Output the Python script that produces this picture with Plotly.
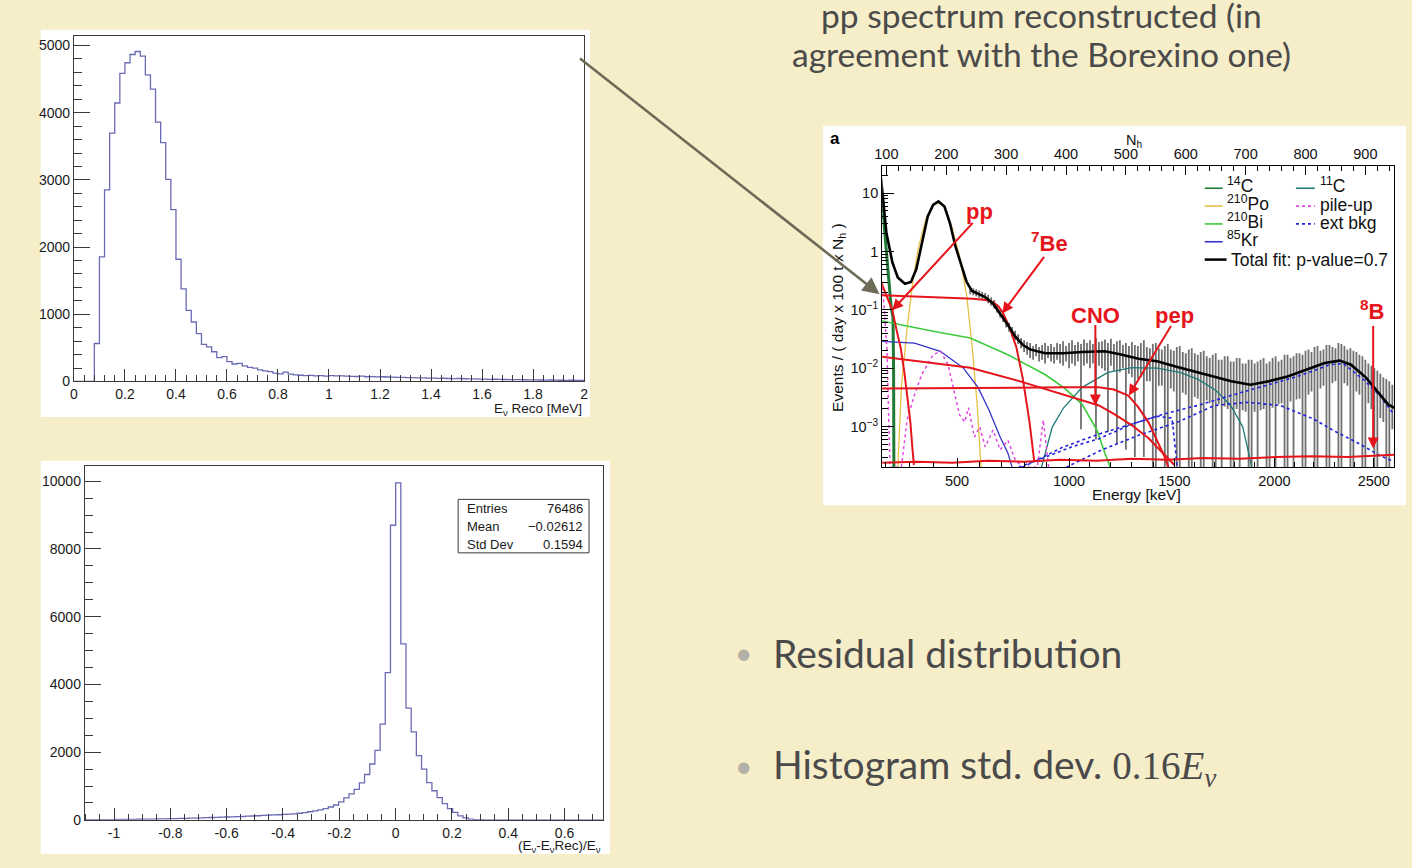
import numpy as np
import plotly.graph_objects as go

W, H = 1412, 868
BG = "#F6EDC9"
ROOT_FONT = "Liberation Sans"
SLIDE_FONT = "Lato"
TEXT_GREY = "#4a4a4a"


def px(x):
    return x / W


def py(y):
    return 1 - y / H


# ---------------- reconstructed energy histogram: 100 bins on [0, 2] MeV
reco_range = (0.0, 2.0)
reco_counts = [
    0, 0, 0, 0, 565, 1853, 2851, 3697, 4145, 4587,
    4744, 4867, 4911, 4843, 4562, 4351, 3859, 3555, 3009, 2557,
    1819, 1377, 1057, 885, 713, 551, 516, 442, 354, 369,
    295, 260, 270, 231, 211, 197, 172, 157, 147, 123,
    113, 138, 108, 98, 92, 88, 90, 84, 86, 80,
    86, 82, 84, 78, 76, 74, 78, 70, 72, 68,
    70, 66, 64, 60, 62, 56, 58, 52, 54, 50,
    50, 47, 48, 44, 42, 44, 40, 38, 37, 35,
    34, 32, 33, 30, 29, 27, 28, 26, 25, 24,
    24, 22, 21, 22, 19, 18, 17, 18, 16, 15,
]

# ---------------- relative residual histogram: 100 bins
res_range = (-1.104, 0.736)
res_counts = [
    6, 7, 8, 9, 10, 10, 12, 13, 14, 16,
    18, 20, 22, 24, 27, 30, 34, 38, 42, 45,
    50, 54, 58, 64, 70, 75, 80, 85, 90, 95,
    100, 108, 115, 122, 130, 138, 145, 152, 160, 168,
    180, 195, 215, 240, 265, 295, 330, 380, 440, 530,
    650, 770, 900, 1090, 1340, 1650, 2050, 2830, 4350, 8700,
    9950, 5200, 3300, 2600, 1900, 1500, 1100, 860, 660, 480,
    330, 220, 120, 60, 25, 8, 3, 0, 0, 0,
    0, 0, 0, 0, 0, 0, 0, 0, 0, 0,
    0, 0, 0, 0, 0, 0, 0, 0, 0, 0,
]
stat_names = ["Entries", "Mean", "Std Dev"]
stat_values = ["76486", "\u22120.02612", "0.1594"]

# ---------------- Borexino spectrum, abscissa in N_h
nh_range = (93, 948)
energy_ticks_nh = [218, 405, 581, 748, 914]
energy_ticks_kev = ["500", "1000", "1500", "2000", "2500"]
energy_minor_nh = [98, 139, 178, 255, 293, 330, 368, 440, 475, 510, 546,
                   614, 648, 681, 714, 781, 814, 848, 881]

fit_nh = [91, 100, 110, 119, 131, 141, 150, 159, 169, 178, 187, 197, 206, 215,
          225, 234, 243, 253, 265, 278, 290, 303, 315, 328, 340, 365, 396, 427,
          465, 490, 521, 552, 583, 614, 645, 676, 708, 739, 770, 801, 832, 857,
          876, 901, 919, 938, 948]
fit_y = [18, 2.1, 0.65, 0.36, 0.28, 0.30, 0.50, 1.4, 4.0, 6.3, 7.2, 5.9, 3.1, 1.26,
         0.58, 0.30, 0.21, 0.19, 0.166, 0.129, 0.087, 0.055, 0.035, 0.025, 0.021,
         0.018, 0.018, 0.019, 0.0195, 0.0174, 0.0145, 0.0132, 0.0107, 0.0089,
         0.0072, 0.0060, 0.0052, 0.0060, 0.0072, 0.0095, 0.0123, 0.0135, 0.0115,
         0.0069, 0.0041, 0.0024, 0.0021]

# measured spectrum: error-bar extent per N_h bin (every 5 N_h from 240 to 945)
data_nh = list(range(240, 950, 5))
data_hi = [
    .245, .235, .225, .215, .205, .195, .182, .165, .148, .125,
    .102, .085, .070, .060, .051, .044, .038, .033, .030, .028,
    .027, .024, .026, .023, .025, .027, .024, .026, .023, .027,
    .026, .029, .024, .027, .030, .025, .028, .026, .031, .027,
    .030, .026, .033, .028, .029, .031, .027, .032, .026, .029,
    .030, .025, .027, .024, .028, .025, .024, .027, .030, .023,
    .022, .026, .027, .022, .021, .024, .026, .021, .020, .023,
    .024, .019, .018, .021, .022, .018, .017, .019, .020, .016,
    .015, .017, .018, .014, .014, .016, .016, .013, .013, .015,
    .015, .012, .012, .014, .014, .012, .013, .014, .015, .012,
    .013, .015, .016, .013, .014, .017, .017, .015, .016, .018,
    .018, .017, .020, .021, .019, .023, .024, .020, .021, .025,
    .025, .023, .022, .027, .026, .024, .021, .022, .020, .019,
    .017, .016, .014, .012, .011, .010, .009, .008, .007, .0065,
    .006, .0052,
]
data_lo = [
    .185, .178, .170, .160, .152, .142, .130, .118, .105, .090,
    .074, .062, .050, .042, .035, .030, .026, .022, .019, .017,
    .015, .014, .016, .013, .014, .012, .015, .013, .012, .014,
    .012, .011, .013, .010, .012, .011, .013, .0009, .011, .012,
    .010, .012, .0006, .011, .010, .009, .0008, .011, .009, .0005,
    .0085, .010, .0004, .008, .007, .0003, .0065, .007, .0003, .006,
    .006, .0002, .0002, .005, .005, .0002, .0002, .0045, .004, .0002,
    .0002, .0038, .0035, .0002, .0002, .0032, .003, .0002, .0002, .0028,
    .0025, .0002, .0002, .0024, .0002, .0022, .002, .0002, .0002, .002,
    .0002, .0019, .0018, .0002, .0002, .0018, .0002, .0019, .002, .0002,
    .0002, .0021, .0002, .0024, .0025, .0002, .0002, .0027, .0002, .0029,
    .003, .0002, .0002, .0035, .004, .0002, .0002, .0045, .005, .0002,
    .0002, .0055, .006, .0002, .0002, .0055, .005, .0002, .0002, .004,
    .0035, .0002, .0002, .0025, .002, .0002, .0002, .0014, .0012, .0002,
    .0002, .0009,
]

pp_nh = [91, 100, 110, 117, 124, 130, 135, 140, 143, 146]
pp_y = [0.30, 0.17, 0.098, 0.045, 0.022, 0.0085, 0.0034, 0.0012, 0.00048, 0.00022]
be7_nh = [91, 130, 170, 210, 245, 265, 278, 287, 294, 305, 317, 328, 339, 347]
be7_y = [0.178, 0.172, 0.167, 0.161, 0.155, 0.148, 0.135, 0.115, 0.092, 0.052,
         0.023, 0.0065, 0.0012, 0.00025]
cno_nh = [91, 157, 240, 322, 378, 433, 455, 482, 510, 538, 565, 581]
cno_y = [0.0158, 0.0131, 0.0102, 0.0060, 0.0040, 0.0027, 0.0023, 0.0016, 0.00105,
         0.00063, 0.00033, 0.00022]
pep_nh = [91, 200, 300, 400, 455, 480, 504, 520, 538, 554, 565, 571]
pep_y = [0.0045, 0.0046, 0.0046, 0.0047, 0.0047, 0.0043, 0.0034, 0.0022, 0.00117,
         0.00054, 0.0003, 0.0002]
b8_nh = [93, 150, 210, 270, 330, 390, 450, 510, 570, 630, 690, 750, 810, 870, 948]
b8_y = [0.00024, 0.00025, 0.00024, 0.00026, 0.00025, 0.00027, 0.00026, 0.00028,
        0.00027, 0.00029, 0.00028, 0.0003, 0.00031, 0.0003, 0.00033]
c14_nh = [91, 95, 100, 104, 108, 111, 112, 112.5]
c14_y = [12, 4, 1.0, 0.3, 0.11, 0.075, 0.01, 0.0002]
po210_nh = [119, 125, 134.5, 144, 153, 165.6, 178, 187.4, 197, 209, 222, 234,
            243.5, 251.6, 258]
po210_y = [0.0002, 0.0047, 0.048, 0.29, 1.1, 3.5, 6.1, 6.9, 5.8, 2.7, 0.85, 0.18,
           0.022, 0.0024, 0.0002]
bi210_nh = [91, 178, 240, 303, 365, 397, 427, 452, 465, 474]
bi210_y = [0.065, 0.043, 0.033, 0.017, 0.0078, 0.0046, 0.0024, 0.00085, 0.00035,
           0.0002]
kr85_nh = [91, 147, 190, 228, 253, 271.5, 290, 303, 310]
kr85_y = [0.029, 0.027, 0.0195, 0.0102, 0.0047, 0.0019, 0.00066, 0.00035, 0.0002]
c11_nh = [359, 365, 377, 396, 427, 470, 510, 552, 590, 620, 650, 675, 695, 706, 710]
c11_y = [0.0002, 0.00035, 0.00098, 0.0021, 0.0047, 0.0085, 0.0102, 0.0100, 0.0085,
         0.0065, 0.0042, 0.0023, 0.0010, 0.00032, 0.0002]
pileup_nh = [91, 96, 101, 106, 125, 134.5, 147, 159, 178, 190.5, 203, 212, 222,
             231, 237, 247, 256, 265, 278, 290, 303, 315, 328, 352, 362, 371]
pileup_y = [0.39, 0.12, 0.02, 0.0002, 0.0002, 0.0013, 0.0035, 0.0078, 0.017,
            0.0195, 0.0115, 0.0047, 0.0016, 0.0012, 0.0021, 0.00066, 0.00098,
            0.00045, 0.00087, 0.0004, 0.00058, 0.00027, 0.0002, 0.0002, 0.0013,
            0.0002]
extA_nh = [321, 365, 410, 455, 510, 565, 620, 675, 731, 786, 841, 863, 896, 924, 946]
extA_y = [0.0002, 0.0003, 0.00045, 0.00062, 0.0011, 0.00166, 0.0023, 0.0034,
          0.0049, 0.0072, 0.0115, 0.012, 0.0065, 0.0034, 0.0017]
extB_nh = [400, 460, 520, 587, 648, 703, 758, 813, 852, 885, 924, 948]
extB_y = [0.0002, 0.0004, 0.0007, 0.0012, 0.0023, 0.0026, 0.0023, 0.00135,
          0.0008, 0.00054, 0.00032, 0.00025]
extC_nh = [327, 396, 458, 521, 552, 577, 583, 586]
extC_y = [0.0002, 0.00045, 0.00076, 0.0012, 0.0015, 0.0014, 0.0004, 0.0002]

RED = "#E5151B"
C14_COL = "#1E7A35"
PO_COL = "#E9C044"
BI_COL = "#3CCB3C"
KR_COL = "#3434C8"
C11_COL = "#1F7A78"
PU_COL = "#E048E0"
EXT_COL = "#2222DD"

fig = go.Figure()


def hist_outline(lo, hi, counts):
    edges = np.linspace(lo, hi, len(counts) + 1)
    return list(edges), list(counts) + [counts[-1]]


hx, hy = hist_outline(*reco_range, reco_counts)
fig.add_trace(go.Scatter(x=hx, y=hy, mode="lines", line=dict(color="#6B6BB5", width=1.3, shape="hv"),
                         xaxis="x", yaxis="y", hoverinfo="skip"))
rx, ry = hist_outline(*res_range, res_counts)
fig.add_trace(go.Scatter(x=rx, y=ry, mode="lines", line=dict(color="#6B6BB5", width=1.3, shape="hv"),
                         xaxis="x2", yaxis="y2", hoverinfo="skip"))

# measured spectrum drawn as vertical error bars
gx, gy = [], []
for n, lo, hi in zip(data_nh, data_lo, data_hi):
    gx += [n, n, None]
    gy += [lo, hi, None]
fig.add_trace(go.Scatter(x=gx, y=gy, mode="lines", line=dict(color="#707070", width=1.8),
                         connectgaps=False, xaxis="x3", yaxis="y3", hoverinfo="skip"))


def curve(xs, ys, color, width=1.5, dash="solid"):
    fig.add_trace(go.Scatter(x=xs, y=ys, mode="lines", line=dict(color=color, width=width, dash=dash),
                             xaxis="x3", yaxis="y3", hoverinfo="skip"))


curve(c14_nh, c14_y, C14_COL, 3)
curve(po210_nh, po210_y, PO_COL, 1.3)
curve(bi210_nh, bi210_y, BI_COL, 1.6)
curve(kr85_nh, kr85_y, KR_COL, 1.3)
curve(c11_nh, c11_y, C11_COL, 1.3)
curve(pileup_nh, pileup_y, PU_COL, 1.5, "dot")
curve(extA_nh, extA_y, EXT_COL, 1.6, "dot")
curve(extB_nh, extB_y, EXT_COL, 1.6, "dot")
curve(extC_nh, extC_y, EXT_COL, 1.6, "dot")
curve(b8_nh, b8_y, RED, 2)
curve(pep_nh, pep_y, RED, 2)
curve(cno_nh, cno_y, RED, 2)
curve(pp_nh, pp_y, RED, 2)
curve(be7_nh, be7_y, RED, 2)
curve(fit_nh, fit_y, "#000000", 2.6)
# carrier for the top N_h axis
fig.add_trace(go.Scatter(x=[nh_range[0]], y=[1], mode="markers", marker=dict(opacity=0),
                         xaxis="x4", yaxis="y3", hoverinfo="skip"))

root_axis = dict(showline=True, mirror=True, linecolor="#3a3a3a", linewidth=1, showgrid=False,
                 zeroline=False, ticks="inside", tickcolor="#3a3a3a",
                 tickfont=dict(family=ROOT_FONT, size=14, color="#1a1a1a"))

log_minor = [m * 10.0 ** k for k in range(-4, 2) for m in range(2, 10)]
bx_axis = dict(showline=True, linecolor="#000", linewidth=1.2, showgrid=False, zeroline=False,
               ticks="inside", tickcolor="#000", tickfont=dict(family=ROOT_FONT, size=14.5, color="#111"))

fig.update_layout(
    width=W, height=H, margin=dict(l=0, r=0, t=0, b=0),
    paper_bgcolor=BG, plot_bgcolor="white", showlegend=False,
    xaxis=dict(root_axis, domain=[px(66.5), px(581)], anchor="y", range=list(reco_range),
               dtick=0.2, tick0=0, ticklen=12,
               minor=dict(ticks="inside", ticklen=6, dtick=0.04, tick0=0, tickcolor="#3a3a3a")),
    yaxis=dict(root_axis, domain=[py(385), py(36)], anchor="x", range=[0, 5147], dtick=1000,
               tickformat="d", ticklen=16,
               minor=dict(ticks="inside", ticklen=8, dtick=200, tick0=0, tickcolor="#3a3a3a")),
    xaxis2=dict(root_axis, domain=[px(77.4), px(600)], anchor="y2", range=list(res_range),
                tickmode="array", tickvals=[-1, -0.8, -0.6, -0.4, -0.2, 0, 0.2, 0.4, 0.6],
                ticktext=["-1", "-0.8", "-0.6", "-0.4", "-0.2", "0", "0.2", "0.4", "0.6"], ticklen=12,
                minor=dict(ticks="inside", ticklen=6, tickmode="linear", dtick=0.05, tick0=0,
                           tickcolor="#3a3a3a")),
    yaxis2=dict(root_axis, domain=[py(827.5), py(470)], anchor="x2", range=[0, 10460], dtick=2000,
                tickformat="d", ticklen=16,
                minor=dict(ticks="inside", ticklen=8, dtick=500, tick0=0, tickcolor="#3a3a3a")),
    xaxis3=dict(bx_axis, domain=[px(881.7), px(1398)], anchor="y3", range=list(nh_range),
                tickmode="array", tickvals=energy_ticks_nh, ticktext=energy_ticks_kev, ticklen=9,
                minor=dict(ticks="inside", ticklen=5, tickmode="array", tickvals=energy_minor_nh,
                           tickcolor="#000")),
    xaxis4=dict(bx_axis, overlaying="x3", anchor="y3", side="top", range=list(nh_range),
                tickmode="linear", tick0=100, dtick=100, ticklen=9,
                minor=dict(ticks="inside", ticklen=5, dtick=20, tick0=0, tickcolor="#000")),
    yaxis3=dict(bx_axis, domain=[py(471.7), py(167.7)], anchor="x3", type="log",
                range=[np.log10(2.0e-4), np.log10(29)], mirror=True, tickmode="array",
                tickvals=[1e-3, 1e-2, 1e-1, 1, 10],
                ticktext=["10<sup>\u22123</sup>", "10<sup>\u22122</sup>", "10<sup>\u22121</sup>", "1", "10"],
                ticklen=12, minor=dict(ticks="inside", ticklen=6, tickmode="array", tickvals=log_minor,
                                       tickcolor="#000")),
)

shapes = []
# white pasted panels
for x0, y0, x1, y1 in [(33, 30, 587, 421), (33, 465, 607, 862), (822, 127, 1410, 510)]:
    shapes.append(dict(type="rect", xref="paper", yref="paper", x0=px(x0), x1=px(x1), y0=py(y1), y1=py(y0),
                       fillcolor="white", line=dict(width=0), layer="below"))
# statistics box
shapes.append(dict(type="rect", xref="paper", yref="paper", x0=px(454), x1=px(586), y0=py(558), y1=py(504),
                   fillcolor="white", line=dict(color="#3a3a3a", width=1)))

# hand-drawn legend of the Borexino panel
legend_left = [("<sup>14</sup>C", C14_COL, "solid"), ("<sup>210</sup>Po", PO_COL, "solid"),
               ("<sup>210</sup>Bi", BI_COL, "solid"), ("<sup>85</sup>Kr", KR_COL, "solid")]
legend_right = [("<sup>11</sup>C", C11_COL, "solid"), ("pile-up", PU_COL, "dot"), ("ext bkg", EXT_COL, "dot")]
LEG_SIZE = 17.5
ann = []
row_y = [190, 208, 226, 244]
for (lab, col, dash), yy in zip(legend_left, row_y):
    shapes.append(dict(type="line", xref="paper", yref="paper", x0=px(1207), x1=px(1225), y0=py(yy), y1=py(yy),
                       line=dict(color=col, width=1.6, dash=dash)))
    ann.append(dict(text=lab, x=px(1227), y=py(yy - 3), xanchor="left", yanchor="middle",
                    font=dict(family=ROOT_FONT, size=LEG_SIZE, color="#111")))
for (lab, col, dash), yy in zip(legend_right, row_y):
    shapes.append(dict(type="line", xref="paper", yref="paper", x0=px(1299), x1=px(1318), y0=py(yy), y1=py(yy),
                       line=dict(color=col, width=1.6, dash=dash)))
    ann.append(dict(text=lab, x=px(1321), y=py(yy - 3 if "sup" in lab else yy - 1), xanchor="left",
                    yanchor="middle", font=dict(family=ROOT_FONT, size=LEG_SIZE, color="#111")))
shapes.append(dict(type="line", xref="paper", yref="paper", x0=px(1207), x1=px(1229), y0=py(262), y1=py(262),
                   line=dict(color="#000", width=2.5)))
ann.append(dict(text="Total fit: p-value=0.7", x=px(1231), y=py(262), xanchor="left", yanchor="middle",
                font=dict(family=ROOT_FONT, size=LEG_SIZE, color="#111")))

# red component labels with arrows (tip in data units, tail as pixel offset)
red_labels = [("pp", 980, 213), ("<sup>7</sup>Be", 1050, 244), ("CNO", 1097, 318),
              ("pep", 1177, 318), ("<sup>8</sup>B", 1376, 313)]
for lab, lx, ly in red_labels:
    ann.append(dict(text="<b>" + lab + "</b>", x=px(lx), y=py(ly), xanchor="center", yanchor="middle",
                    font=dict(family=ROOT_FONT, size=22, color=RED)))
red_arrows = [(109.6, 0.098, 82, -89), (293.4, 0.087, 43, -58), (449, 0.0023, 0, -82),
              (505, 0.0034, 43, -71), (913, 0.00042, 0, -124)]
for nh, val, axp, ayp in red_arrows:
    ann.append(dict(text="", x=nh, y=np.log10(val), xref="x3", yref="y3", showarrow=True, ax=axp, ay=ayp,
                    arrowhead=2, arrowsize=1.1, arrowwidth=2, arrowcolor=RED))

# axis titles of the Borexino panel
ann.append(dict(text="<b>a</b>", x=px(834), y=py(140), xanchor="center", yanchor="middle",
                font=dict(family=ROOT_FONT, size=17, color="#000")))
ann.append(dict(text="N<sub>h</sub>", x=px(1136), y=py(142), xanchor="center", yanchor="middle",
                font=dict(family=ROOT_FONT, size=14.5, color="#111")))
ann.append(dict(text="Energy [keV]", x=px(1138), y=py(499), xanchor="center", yanchor="middle",
                font=dict(family=ROOT_FONT, size=15.5, color="#111")))
ann.append(dict(text="Events / ( day x 100 t x N<sub>h</sub> )", x=px(837), y=py(320), xanchor="center",
                yanchor="middle", textangle=-90, font=dict(family=ROOT_FONT, size=15.5, color="#111")))

# ROOT axis titles and statistics box
ann.append(dict(text="E<sub>\u03bd</sub> Reco [MeV]", x=px(581), y=py(413), xanchor="right", yanchor="middle",
                font=dict(family=ROOT_FONT, size=13.5, color="#1a1a1a")))
ann.append(dict(text="(E<sub>\u03bd</sub>-E<sub>\u03bd</sub>Rec)/E<sub>\u03bd</sub>", x=px(600), y=py(854),
                xanchor="right", yanchor="middle", font=dict(family=ROOT_FONT, size=13.5, color="#1a1a1a")))
for name, val, yy in zip(stat_names, stat_values, [513, 531.5, 549.5]):
    ann.append(dict(text=name, x=px(461), y=py(yy), xanchor="left", yanchor="middle",
                    font=dict(family=ROOT_FONT, size=13, color="#1a1a1a")))
    ann.append(dict(text=val, x=px(582), y=py(yy), xanchor="right", yanchor="middle",
                    font=dict(family=ROOT_FONT, size=13, color="#1a1a1a")))

# slide text
ann.append(dict(text="pp spectrum reconstructed (in", x=px(1042), y=py(15), xanchor="center", yanchor="middle",
                font=dict(family=SLIDE_FONT, size=33.5, color=TEXT_GREY)))
ann.append(dict(text="agreement with the Borexino one)", x=px(1042), y=py(55), xanchor="center",
                yanchor="middle", font=dict(family=SLIDE_FONT, size=33.5, color=TEXT_GREY)))
for yy in [658, 772]:
    ann.append(dict(text="\u2022", x=px(742), y=py(yy), xanchor="center", yanchor="middle",
                    font=dict(family=SLIDE_FONT, size=30, color="#b3b0a6")))
ann.append(dict(text="Residual distribution", x=px(770), y=py(659), xanchor="left", yanchor="middle",
                font=dict(family=SLIDE_FONT, size=39, color=TEXT_GREY)))
ann.append(dict(text="Histogram std. dev. <span style='font-family:Liberation Serif'>0.16<i>E</i>"
                     "<sub><i>\u03bd</i></sub></span>",
                x=px(770), y=py(774), xanchor="left", yanchor="middle",
                font=dict(family=SLIDE_FONT, size=39, color=TEXT_GREY)))

# pointer from the histogram to the published spectrum
ann.append(dict(text="", x=px(879), y=py(297), xref="paper", yref="paper", showarrow=True,
                ax=578 - 879, ay=60 - 297, arrowhead=2, arrowsize=1.3, arrowwidth=2.6, arrowcolor="#6e6a58"))

for a in ann:
    a.setdefault("xref", "paper")
    a.setdefault("yref", "paper")
    a.setdefault("showarrow", False)

fig.update_layout(shapes=shapes, annotations=ann)
fig.write_html("out.html")
